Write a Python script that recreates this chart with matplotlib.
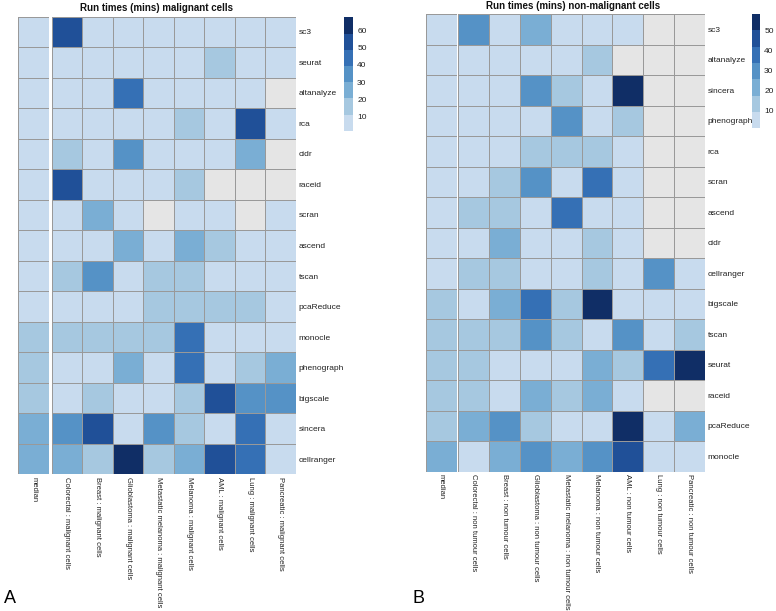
import numpy as np
import matplotlib
matplotlib.use("Agg")
import matplotlib.pyplot as plt
from matplotlib.colors import ListedColormap, BoundaryNorm
import matplotlib.colorbar as mcolorbar

plt.rcParams['font.family'] = ['Liberation Sans', 'DejaVu Sans']

nan = np.nan

# ---------------- data ----------------
cols_mal = ["Colorectal : malignant cells", "Breast : malignant cells",
            "Glioblastoma : malignant cells", "Metastatic melanoma : malignant cells",
            "Melanoma : malignant cells", "AML : malignant cells",
            "Lung : malignant cells", "Pancreatic : malignant cells"]
rows_mal = ["sc3", "seurat", "altanalyze", "rca", "cidr", "raceid", "scran", "ascend",
            "tscan", "pcaReduce", "monocle", "phenograph", "bigscale", "sincera", "cellranger"]
median_mal = [1.4, 3, 4, 4, 5, 5, 6, 6, 7, 8, 12, 13, 14, 22, 23]
vals_mal = [
    [54, 3, 4, 2.5, 3, 5, 4, 6],
    [4, 3, 5, 3, 6, 15, 5, 4],
    [5, 6, 45, 4, 5, 7, 4, nan],
    [3, 4, 6, 5, 16, 5, 55, 6],
    [15, 4, 34, 5, 6, 5, 26, nan],
    [56, 4, 6, 5, 17, nan, nan, nan],
    [5, 25, 6, nan, 5, 6, nan, 7],
    [5, 7, 26, 6, 27, 16, 7, 6],
    [14, 35, 6, 15, 16, 7, 6, 5],
    [6, 7, 8, 14, 15, 16, 17, 6],
    [14, 15, 16, 17, 44, 6, 5, 7],
    [7, 8, 27, 6, 45, 5, 16, 24],
    [6, 15, 8, 7, 17, 55, 33, 34],
    [36, 53, 7, 34, 17, 8, 44, 6],
    [26, 16, 68, 17, 25, 54, 45, 7],
]

cols_non = ["Colorectal : non tumour cells", "Breast : non tumour cells",
            "Glioblastoma : non tumour cells", "Metastatic melanoma : non tumour cells",
            "Melanoma : non tumour cells", "AML : non tumour cells",
            "Lung : non tumour cells", "Pancreatic : non tumour cells"]
rows_non = ["sc3", "altanalyze", "sincera", "phenograph", "rca", "scran", "ascend", "cidr",
            "cellranger", "bigscale", "tscan", "seurat", "raceid", "pcaReduce", "monocle"]
median_non = [1.0, 3, 4, 4, 5, 5, 5, 6, 6, 10, 11, 12, 12, 13, 19]
vals_non = [
    [30, 4, 22, 5, 6, 4, nan, nan],
    [4, 5, 6, 5, 14, nan, nan, nan],
    [5, 6, 29, 13, 6, 58.4, nan, nan],
    [5, 6, 7, 30, 6, 14, nan, nan],
    [6, 7, 12, 13, 14, 7, nan, nan],
    [6, 13, 31, 5, 38, 7, nan, nan],
    [14, 15, 6, 39, 7, 6, nan, nan],
    [7, 21, 6, 5, 15, 7, nan, nan],
    [14, 15, 7, 6, 15, 7, 32, 5],
    [6, 22, 37, 14, 56, 7, 6, 6],
    [14, 15, 31, 13, 5, 29, 6, 14],
    [13, 6, 7, 6, 21, 15, 40, 57],
    [14, 6, 24, 13, 22, 6, nan, nan],
    [23, 29, 15, 6, 7, 55, 5, 22],
    [5, 23, 30, 22, 32, 47, 6, 7],
]

colorbar_ticks = [10, 20, 30, 40, 50, 60]
palette = ["#C8DBEE", "#A6C8E0", "#7AAED4", "#5592C6", "#3570B5", "#205098", "#102E66"]
na_color = "#E5E5E5"
border = "#999999"
txt = "#222222"

W, H = 776, 611
fig = plt.figure(figsize=(W / 100, H / 100), dpi=100)


def px(x0, y0, x1, y1):
    return [x0 / W, 1 - y1 / H, (x1 - x0) / W, (y1 - y0) / H]


cmap = ListedColormap(palette)
cmap.set_bad(na_color)


def heat(ax, data, norm, xlabels, ylabels=None):
    m = np.ma.masked_invalid(np.array(data, dtype=float))
    ax.pcolormesh(m, cmap=cmap, norm=norm, edgecolors=border, linewidth=0.7)
    ax.set_xlim(0, m.shape[1])
    ax.set_ylim(m.shape[0], 0)
    ax.set_xticks(np.arange(m.shape[1]) + 0.5)
    ax.set_xticklabels(xlabels, rotation=-90, fontsize=5.5, va='top', ha='center')
    if ylabels is not None:
        ax.yaxis.tick_right()
        ax.set_yticks(np.arange(m.shape[0]) + 0.5)
        ax.set_yticklabels(ylabels, fontsize=6)
    else:
        ax.set_yticks([])
    ax.tick_params(length=0, pad=2, colors=txt)
    for s in ax.spines.values():
        s.set_visible(False)


def panel(med, vals, rows, cols, xm, xs, y0, y1, cbx, cby, title, tx, ty):
    allv = np.array([med] + [list(r) for r in zip(*vals)], dtype=float)
    lo, hi = np.nanmin(allv), np.nanmax(allv)
    bounds = np.linspace(lo, hi, len(palette) + 1)
    norm = BoundaryNorm(bounds, cmap.N)
    axm = fig.add_axes(px(xm[0], y0, xm[1], y1))
    heat(axm, np.array(med, dtype=float)[:, None], norm, ["median"])
    axh = fig.add_axes(px(xs[0], y0, xs[1], y1))
    heat(axh, vals, norm, cols, rows)
    cax = fig.add_axes(px(cbx[0], cby[0], cbx[1], cby[1]))
    cb = mcolorbar.ColorbarBase(cax, cmap=ListedColormap(palette), norm=norm,
                                boundaries=bounds, orientation='vertical')
    cb.outline.set_visible(False)
    cb.set_ticks([t for t in colorbar_ticks if lo <= t <= hi])
    cb.ax.minorticks_off()
    cb.ax.tick_params(which='both', length=0, width=0, labelsize=6, pad=3, colors=txt)
    fig.text(tx / W, 1 - ty / H, title, ha='center', va='center',
             fontsize=7, fontweight='bold', color='#111111')


panel(median_mal, vals_mal, rows_mal, cols_mal, (18.3, 49), (51.7, 296), 16.7, 474.3,
      (344, 353), (17.3, 130.7), "Run times (mins) malignant cells", 157, 8)
panel(median_non, vals_non, rows_non, cols_non, (426, 456.7), (458.3, 704.7), 14, 471.7,
      (752, 760), (14, 128.3), "Run times (mins) non-malignant cells", 573, 6)

fig.text(4 / W, 1 - 603 / H, "A", fontsize=13, ha='left', va='baseline')
fig.text(413 / W, 1 - 603 / H, "B", fontsize=13, ha='left', va='baseline')

fig.savefig("out.png", dpi=100)
